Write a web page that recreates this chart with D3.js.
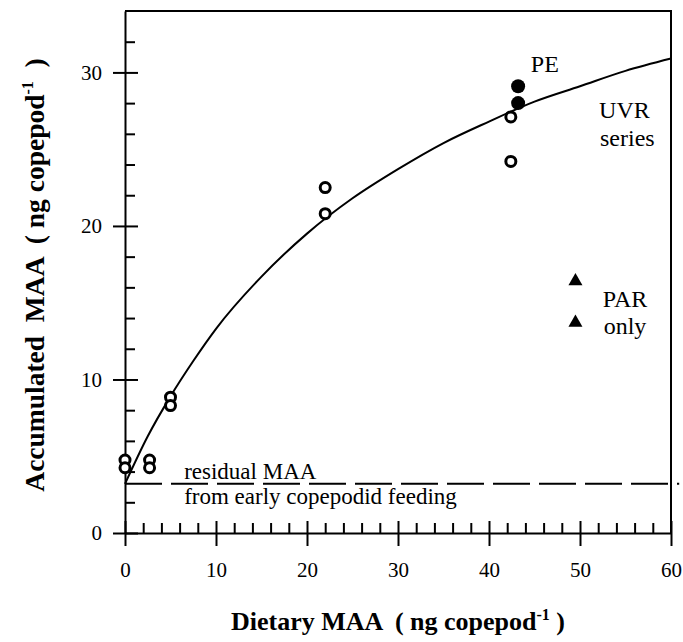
<!DOCTYPE html>
<html>
<head>
<meta charset="utf-8">
<script src="https://cdn.jsdelivr.net/npm/d3@7"></script>
<style>
  body { margin: 0; background: #fff; }
</style>
</head>
<body>
<div id="chart"></div>
<script>
const FONT = "Liberation Serif";

// UVR series (open circles)
const uvrX = [0, 0, 2.7, 2.7, 5.0, 5.0, 22.0, 22.0, 42.4, 42.4];
const uvrY = [4.75, 4.25, 4.75, 4.25, 8.85, 8.3, 22.5, 20.8, 27.1, 24.2];

// PE (filled circles)
const peX = [43.2, 43.2];
const peY = [29.1, 28.0];

// PAR only (triangles)
const parX = [49.5, 49.5];
const parY = [16.4, 13.7];

// fitted curve
const fitX = [0, 2.5, 5, 7.5, 10, 15, 20, 25, 30, 35, 40, 45, 50, 55, 60];
const fitY = [3.2, 6.3, 8.9, 11.2, 13.3, 16.7, 19.5, 21.8, 23.7, 25.4, 26.8, 28.1, 29.1, 30.1, 30.9];

// residual MAA level (dashed line)
const residualLevel = 3.2;

const xMajor = [0, 10, 20, 30, 40, 50, 60];
const yMajor = [0, 10, 20, 30];

const width = 683, height = 642;
const margin = { top: 11, right: 12, bottom: 109, left: 125 };

const svg = d3.select('#chart').append('svg')
    .attr('width', width)
    .attr('height', height);

const x = d3.scaleLinear().domain([0, 60]).range([margin.left, width - margin.right]);
const y = d3.scaleLinear().domain([0, 34]).range([height - margin.bottom, margin.top]);

const xMinor = d3.range(0, 61, 2).filter(v => !xMajor.includes(v));
const yMinor = d3.range(0, 34, 2).filter(v => !yMajor.includes(v));

function styleAxis(g) {
    g.attr('font-family', null);
    g.selectAll('line').attr('stroke', '#000').attr('stroke-width', 2);
    g.selectAll('path').attr('stroke', '#000').attr('stroke-width', 2);
    g.selectAll('text')
        .style('font-family', FONT)
        .style('font-size', '21px')
        .attr('fill', '#000');
}

// x axis: major ticks outward with labels, inward parts and minors
const xg = svg.append('g').attr('transform', `translate(0,${y(0)})`);
xg.append('g')
    .call(d3.axisBottom(x).tickValues(xMajor).tickSize(13).tickSizeOuter(0).tickPadding(16).tickFormat(d3.format('d')))
    .call(styleAxis);
xg.append('g')
    .call(d3.axisBottom(x).tickValues(xMajor).tickSize(-12).tickFormat(''))
    .call(styleAxis)
    .call(g => g.select('.domain').remove());
xg.append('g')
    .call(d3.axisBottom(x).tickValues(xMinor).tickSize(-10).tickFormat(''))
    .call(styleAxis)
    .call(g => g.select('.domain').remove());

// y axis
const yg = svg.append('g').attr('transform', `translate(${x(0)},0)`);
yg.append('g')
    .call(d3.axisLeft(y).tickValues(yMajor).tickSize(12).tickSizeOuter(0).tickPadding(11).tickFormat(d3.format('d')))
    .call(styleAxis);
yg.append('g')
    .call(d3.axisLeft(y).tickValues(yMajor).tickSize(-13).tickFormat(''))
    .call(styleAxis)
    .call(g => g.select('.domain').remove());
yg.append('g')
    .call(d3.axisLeft(y).tickValues(yMinor).tickSize(-10).tickFormat(''))
    .call(styleAxis)
    .call(g => g.select('.domain').remove());

// top and right frame
svg.append('path')
    .attr('d', `M${x(0)},${y(34)}H${x(60)}V${y(0)}`)
    .attr('fill', 'none')
    .attr('stroke', '#000')
    .attr('stroke-width', 2);

// residual dashed line
svg.append('line')
    .attr('x1', x(0)).attr('x2', x(60.9))
    .attr('y1', y(residualLevel)).attr('y2', y(residualLevel))
    .attr('stroke', '#000')
    .attr('stroke-width', 2)
    .attr('stroke-dasharray', '37,9');

// fitted curve
const fitData = fitX.map((v, i) => [v, fitY[i]]);
svg.append('path')
    .datum(fitData)
    .attr('fill', 'none')
    .attr('stroke', '#000')
    .attr('stroke-width', 2)
    .attr('d', d3.line().x(d => x(d[0])).y(d => y(d[1])).curve(d3.curveMonotoneX));

// open circles
svg.append('g').selectAll('circle')
    .data(uvrX.map((v, i) => [v, uvrY[i]]))
    .join('circle')
    .attr('cx', d => x(d[0]))
    .attr('cy', d => y(d[1]))
    .attr('r', 5)
    .attr('fill', '#fff')
    .attr('stroke', '#000')
    .attr('stroke-width', 3);

// filled circles
svg.append('g').selectAll('circle')
    .data(peX.map((v, i) => [v, peY[i]]))
    .join('circle')
    .attr('cx', d => x(d[0]))
    .attr('cy', d => y(d[1]))
    .attr('r', 7)
    .attr('fill', '#000');

// triangles
svg.append('g').selectAll('path')
    .data(parX.map((v, i) => [v, parY[i]]))
    .join('path')
    .attr('transform', d => `translate(${x(d[0])},${y(d[1])})`)
    .attr('d', d3.symbol(d3.symbolTriangle, 85))
    .attr('fill', '#000');

// annotations
const notes = [
    { text: 'PE', x: 44.6, y: 30.0, size: 24 },
    { text: 'UVR', x: 52.1, y: 27.05, size: 24 },
    { text: 'series', x: 52.2, y: 25.2, size: 24 },
    { text: 'PAR', x: 52.5, y: 14.75, size: 24 },
    { text: 'only', x: 52.6, y: 12.95, size: 24 },
    { text: 'residual MAA', x: 6.5, y: 3.5, size: 23 },
    { text: 'from early copepodid feeding', x: 6.5, y: 1.9, size: 23 }
];
svg.append('g').selectAll('text')
    .data(notes)
    .join('text')
    .attr('x', d => x(d.x))
    .attr('y', d => y(d.y))
    .style('font-family', FONT)
    .style('font-size', d => d.size + 'px')
    .text(d => d.text);

// axis titles
const xTitle = svg.append('text')
    .attr('x', (x(0) + x(60)) / 2)
    .attr('y', 630)
    .attr('text-anchor', 'middle')
    .style('font-family', FONT)
    .style('font-size', '26px')
    .style('font-weight', 'bold')
    .style('white-space', 'pre');
xTitle.append('tspan').text('Dietary MAA  ( ng copepod');
xTitle.append('tspan').style('font-size', '16px').attr('dy', -10).text('-1');
xTitle.append('tspan').attr('dy', 10).text(' )');

const yTitle = svg.append('text')
    .attr('transform', `translate(44,${(y(0) + y(34)) / 2 + 3}) rotate(-90)`)
    .attr('text-anchor', 'middle')
    .style('font-family', FONT)
    .style('font-size', '27.5px')
    .style('font-weight', 'bold')
    .style('white-space', 'pre');
yTitle.append('tspan').text('Accumulated  MAA  ( ng copepod');
yTitle.append('tspan').style('font-size', '16px').attr('dy', -11).text('-1');
yTitle.append('tspan').attr('dy', 11).text('  )');
</script>
</body>
</html>
